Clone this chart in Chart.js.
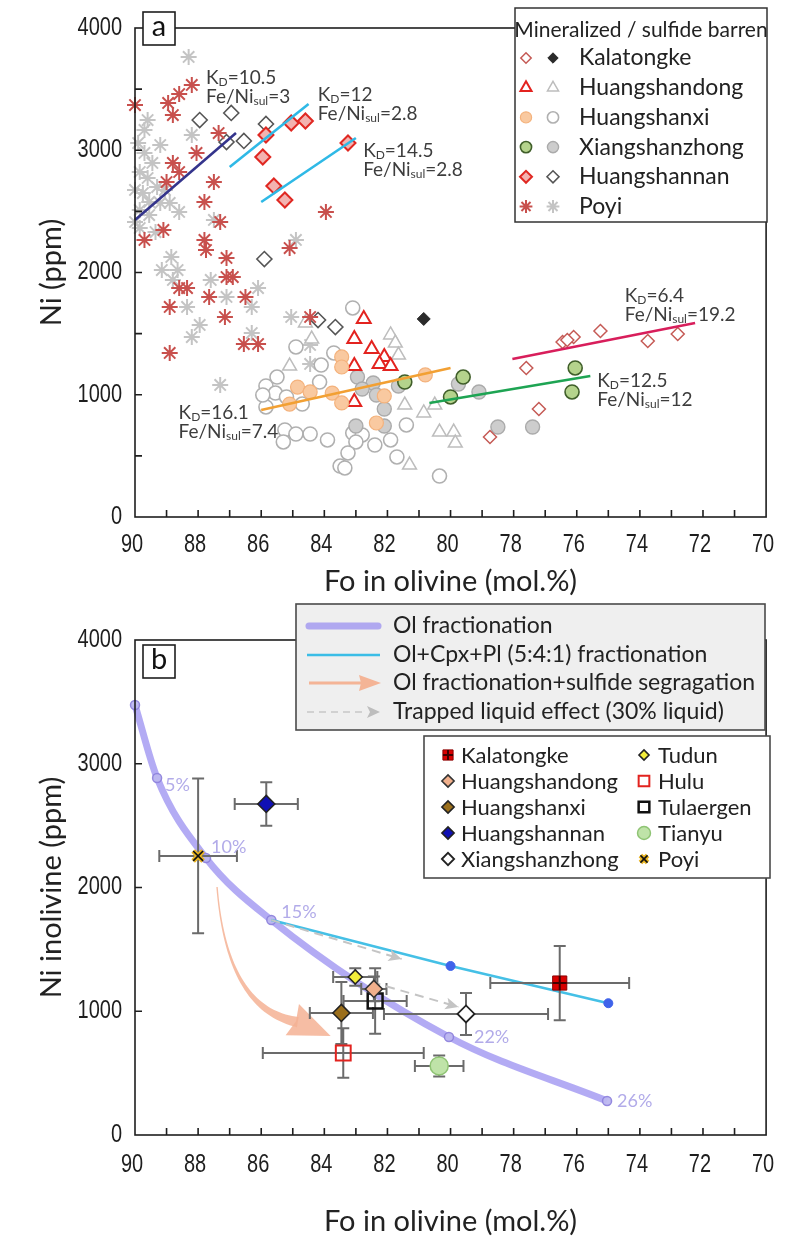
<!DOCTYPE html>
<html>
<head>
<meta charset="utf-8">
<script src="https://cdn.jsdelivr.net/npm/chart.js@4.4.1/dist/chart.umd.min.js"></script>
<style>
  body { margin: 0; background: #fff; }
  #wrap { position: relative; width: 790px; height: 1240px; }
  canvas { position: absolute; left: 0; }
</style>
</head>
<body>
<div id="wrap">
  <canvas id="chartA" width="790" height="600" style="top:0"></canvas>
  <canvas id="chartB" width="790" height="640" style="top:600px"></canvas>
</div>
<script>
// ---------- panel a : [Fo, Ni] ----------
const kalatongkeMin = [[77.6,1219],[76.45,1431],[76.1,1472],[76.3,1448],[75.25,1521],[73.75,1440],[72.8,1497],[77.2,883],[78.75,654]];
const kalatongkeBar = [[80.85,1620]];
const huangshandongMin = [[82.75,1620],[83.05,1456],[82.5,1374],[82.1,1309],[82.25,1252],[81.9,1235],[83.05,1235],[83.05,941]];
const huangshandongBar = [[81.9,1489],[81.75,1423],[81.65,1325],[85.1,1235],[84.4,1456],[81.45,916],[80.85,851],[80.5,916],[80.35,695],[79.9,695],[79.85,605],[81.3,425],[84.6,1587]];
const huangshanxiMin = [[83.45,1309],[83.45,1227],[84.85,1063],[84.45,1023],[83.75,1014],[83.45,933],[85.1,924],[82.1,990],[82.35,769],[80.8,1162]];
const huangshanxiBar = [[83.1,1710],[84.9,1391],[83.7,1342],[84.1,1243],[85.5,1145],[85.85,1072],[85.55,1014],[85.2,982],[84.7,924],[85.25,712],[84.9,679],[84.45,679],[83.9,630],[85.3,614],[83.1,687],[82.8,671],[83.0,614],[82.4,589],[81.9,630],[83.25,524],[83.5,417],[83.35,401],[81.7,491],[80.35,335],[85.85,900],[85.95,998],[81.4,753],[84.15,1104]];
const xiangshanzhongMin = [[81.45,1104],[79.6,1145],[80.0,982],[76.05,1219],[76.15,1023]];
const xiangshanzhongBar = [[82.95,1145],[82.45,1096],[82.8,1047],[82.35,998],[82.1,883],[83.0,744],[82.1,744],[79.75,1088],[79.1,1022],[78.5,736],[77.4,736],[81.65,1072]];
const huangshannanMin = [[85.85,3125],[85.05,3223],[84.6,3239],[85.95,2945],[85.6,2708],[85.25,2593],[83.25,3059]];
const huangshannanBar = [[87.95,3247],[86.95,3305],[85.85,3215],[87.1,3067],[86.55,3076],[85.9,2110],[84.2,1611],[83.65,1554]];
const poyiMin = [[90.0,3370],[88.95,3387],[88.8,3288],[88.6,3460],[88.2,3534],[87.35,3141],[88.05,2978],[88.8,2896],[88.6,2822],[89.0,2740],[87.5,2740],[87.8,2577],[87.3,2413],[89.1,2348],[89.7,2266],[87.8,2266],[87.75,2184],[87.1,2119],[87.1,1963],[86.9,1963],[88.6,1873],[88.35,1873],[87.65,1800],[86.5,1800],[88.9,1718],[87.15,1636],[88.9,1342],[86.55,1415],[86.1,1415],[85.1,2200],[84.45,1636],[83.95,2495]];
const poyiBar = [[88.3,3763],[89.9,3059],[89.7,2978],[89.45,2896],[89.85,2822],[89.6,2773],[89.3,2699],[89.75,2650],[89.55,2577],[89.2,2569],[88.9,2569],[89.85,2511],[88.6,2495],[90.0,2413],[89.35,2331],[88.2,3125],[87.5,2430],[84.9,2266],[88.85,2127],[89.15,2020],[88.65,2020],[88.8,1939],[87.6,1939],[86.1,1873],[87.1,1800],[88.35,1718],[86.3,1718],[87.95,1571],[88.2,1472],[86.3,1505],[85.05,1636],[87.3,1080],[84.45,1407],[84.45,1252],[89.6,3247],[89.7,3166],[89.2,3043],[90.0,2675],[89.05,2675],[89.55,2470],[89.85,2364]];

// partition lines (start, end) and their labels
const kdLineStart = [[90.0,2429],[87.0,2863],[86.0,2577],[86.0,875],[80.67,932],[78.04,1292]];
const kdLineEnd   = [[86.8,3141],[84.5,3378],[83.0,3100],[80.0,1219],[75.57,1153],[72.25,1587]];
const kdValues    = ['10.5','12','14.5','16.1','12.5','6.4'];
const feNiValues  = ['3','2.8','2.8','7.4','12','19.2'];
const kdLabelAt   = [[87.75,3599],[84.21,3460],[82.77,3002],[88.62,859],[75.35,1121],[74.48,1816]];
const kdColors    = ['#34348c','#2fb9e6','#2fb9e6','#f2a033','#1ea453','#d81e5b'];

// ---------- panel b ----------
const olFracFo  = [90, 89.3, 87.75, 85.68, 80.05, 75.04];
const olFracNi  = [3475, 2885, 2238, 1737, 792, 275];
const olFracPct = ['', '5%', '10%', '15%', '22%', '26%'];
const olCpxPlFo = [85.68, 80, 75];
const olCpxPlNi = [1737, 1366, 1065];
const trappedFrom = [[85.68,1737],[82.5,1236]];
const trappedTo   = [[81.55,1422],[79.75,1034]];
const sulfidePath = [[87.4,2004],[87.09,1010],[84.84,913],[83.8,800]]; // start, control, head base, tip

const sampleNames = ['Kalatongke','Huangshandong','Huangshanxi','Huangshannan','Xiangshanzhong','Tudun','Hulu','Tulaergen','Tianyu','Poyi'];
const sampleFo    = [76.54, 82.43, 83.46, 85.84, 79.51, 83.02, 83.40, 82.39, 80.36, 88.0];
const sampleNi    = [1228, 1180, 986, 2675, 978, 1277, 663, 1083, 558, 2255];
const sampleFoErr = [2.2, 0.4, 1.0, 1.0, 2.6, 0.7, 2.55, 1.0, 0.77, 1.23];
const sampleNiErr = [300, 100, 250, 175, 170, 70, 200, 265, 85, 625];

const tickFont = "'Liberation Sans', Arial, sans-serif";
const textFont = "Lato, 'Open Sans', sans-serif";

const styleA = {
  kalatongkeMin:     {shape:'rectRot',  r:6.5, bg:'#ffffff', border:'#c55a55', width:1.5},
  kalatongkeBar:     {shape:'rectRot',  r:6.5, bg:'#2b2b2b', border:'#2b2b2b', width:1},
  huangshandongMin:  {shape:'triangle', r:8,   bg:'#ffffff', border:'#e3231f', width:2},
  huangshandongBar:  {shape:'triangle', r:8,   bg:'#ffffff', border:'#bdbdbd', width:1.5},
  huangshanxiMin:    {shape:'circle',   r:7,   bg:'#f9c9a0', border:'#f4b27c', width:1.2},
  huangshanxiBar:    {shape:'circle',   r:7,   bg:'#ffffff', border:'#b0b0b0', width:1.6},
  xiangshanzhongMin: {shape:'circle',   r:7,   bg:'#b4d38c', border:'#405f2a', width:1.6},
  xiangshanzhongBar: {shape:'circle',   r:7,   bg:'#cdcdcd', border:'#ababab', width:1.4},
  huangshannanMin:   {shape:'rectRot',  r:7.5, bg:'#f3b3b0', border:'#e02822', width:2},
  huangshannanBar:   {shape:'rectRot',  r:7.5, bg:'#ffffff', border:'#555555', width:1.6},
  poyiMin:           {shape:'star',     r:8,   bg:'#c8504d', border:'#c8504d', width:2},
  poyiBar:           {shape:'star',     r:8,   bg:'#c4c4c4', border:'#c4c4c4', width:2}
};
const legendA = [
  ['Kalatongke', 'kalatongkeMin', 'kalatongkeBar'],
  ['Huangshandong', 'huangshandongMin', 'huangshandongBar'],
  ['Huangshanxi', 'huangshanxiMin', 'huangshanxiBar'],
  ['Xiangshanzhong', 'xiangshanzhongMin', 'xiangshanzhongBar'],
  ['Huangshannan', 'huangshannanMin', 'huangshannanBar'],
  ['Poyi', 'poyiMin', 'poyiBar']
];
const groupData = {kalatongkeMin, kalatongkeBar, huangshandongMin, huangshandongBar, huangshanxiMin, huangshanxiBar,
  xiangshanzhongMin, xiangshanzhongBar, huangshannanMin, huangshannanBar, poyiMin, poyiBar};

const styleB = {
  Kalatongke:     {shape:'rect',    r:10,  bg:'#d90000', border:'#8a0000', width:1, over:{shape:'cross', r:7, color:'#400000', width:2}},
  Huangshandong:  {shape:'rectRot', r:8.5, bg:'#f1b08c', border:'#333333', width:1.6},
  Huangshanxi:    {shape:'rectRot', r:8.5, bg:'#9b6f1c', border:'#222222', width:1.6},
  Huangshannan:   {shape:'rectRot', r:8.5, bg:'#1010b4', border:'#222222', width:1.6},
  Xiangshanzhong: {shape:'rectRot', r:8.5, bg:'#ffffff', border:'#222222', width:1.8},
  Tudun:          {shape:'rectRot', r:7,   bg:'#f3ee3a', border:'#222222', width:1.6},
  Hulu:           {shape:'rect',    r:10.5,bg:'rgba(0,0,0,0)', border:'#e2231f', width:2},
  Tulaergen:      {shape:'rect',    r:10.5,bg:'rgba(0,0,0,0)', border:'#111111', width:2.5},
  Tianyu:         {shape:'circle',  r:9,   bg:'#bfe3a8', border:'#8fc474', width:1.5},
  Poyi:           {shape:'crossRot',r:7,   bg:'#e9b41f', border:'#e9b41f', width:5, over:{shape:'crossRot', r:7, color:'#111', width:1.6}}
};

function pts(arr) { return arr.map(p => ({x: p[0], y: p[1]})); }

function scatterSet(points, st) {
  return {type: 'scatter', data: pts(points), pointStyle: st.shape, pointRadius: st.r,
    pointBackgroundColor: st.bg, pointBorderColor: st.border, pointBorderWidth: st.width, clip: false};
}

function drawSymbol(ctx, st, x, y, r) {
  ctx.save();
  ctx.fillStyle = st.bg;
  ctx.strokeStyle = st.border;
  ctx.lineWidth = st.width;
  Chart.helpers.drawPoint(ctx, {pointStyle: st.shape, radius: r || st.r, rotation: 0, borderWidth: st.width}, x, y);
  if (st.over) {
    ctx.strokeStyle = st.over.color;
    ctx.lineWidth = st.over.width;
    Chart.helpers.drawPoint(ctx, {pointStyle: st.over.shape, radius: (r ? r * st.over.r / st.r : st.over.r), rotation: 0, borderWidth: st.over.width}, x, y);
  }
  ctx.restore();
}

// tick labels are drawn narrow by the frame plugin; the library ones stay invisible
function scalesConfig(yStep, xHeight) {
  return {
    x: {type: 'linear', min: 70, max: 90, reverse: true,
      ticks: {stepSize: 1, autoSkip: false, maxRotation: 0, padding: 10, color: 'rgba(0,0,0,0)',
        font: {family: tickFont, size: 25, lineHeight: 1},
        callback: v => (v % 2 === 0 ? v : '')},
      grid: {display: false, drawTicks: false}, border: {display: false},
      afterFit: s => { s.height = xHeight; }},
    y: {type: 'linear', min: 0, max: 4000,
      ticks: {stepSize: yStep, autoSkip: false, padding: 13, color: 'rgba(0,0,0,0)',
        font: {family: tickFont, size: 25, lineHeight: 1},
        callback: v => (v % 1000 === 0 ? v : '')},
      grid: {display: false, drawTicks: false}, border: {display: false},
      afterFit: s => { s.width = 135; }}
  };
}

function narrowText(ctx, txt, x, y) {
  ctx.save();
  ctx.translate(x, y);
  ctx.scale(0.8, 1);
  ctx.fillText(txt, 0, 0);
  ctx.restore();
}

function drawFrame(chart, yTitle, xLabelY, xTitleY) {
  const {ctx, chartArea: a, scales: {x, y}} = chart;
  ctx.save();
  ctx.strokeStyle = '#1e1e1e';
  ctx.lineWidth = 1.6;
  ctx.beginPath();
  x.ticks.forEach(t => {
    if (t.value > 70 && t.value < 90) {
      const p = x.getPixelForValue(t.value);
      ctx.moveTo(p, a.bottom); ctx.lineTo(p, a.bottom - 7);
    }
  });
  y.ticks.forEach(t => {
    if (t.value > 0 && t.value < 4000) {
      const p = y.getPixelForValue(t.value);
      ctx.moveTo(a.left, p); ctx.lineTo(a.left + 7, p);
    }
  });
  ctx.stroke();
  ctx.strokeRect(a.left, a.top, a.right - a.left, a.bottom - a.top);
  ctx.fillStyle = '#1e1e1e';
  ctx.font = '25px ' + tickFont;
  ctx.textBaseline = 'middle';
  ctx.textAlign = 'center';
  x.ticks.forEach(t => {
    if (t.value % 2 === 0) narrowText(ctx, String(t.value), x.getPixelForValue(t.value) - 3, xLabelY);
  });
  ctx.textAlign = 'right';
  y.ticks.forEach(t => {
    if (t.value % 1000 === 0) narrowText(ctx, String(t.value), a.left - 13, y.getPixelForValue(t.value));
  });
  ctx.fillStyle = '#222';
  ctx.font = '29px ' + textFont;
  ctx.textAlign = 'center';
  ctx.fillText('Fo in olivine (mol.%)', (a.left + a.right) / 2, xTitleY);
  ctx.translate(52, (a.top + a.bottom) / 2);
  ctx.rotate(-Math.PI / 2);
  ctx.fillText(yTitle, 0, 0);
  ctx.restore();
}

function panelTag(ctx, txt, x, y) {
  ctx.save();
  ctx.fillStyle = '#fff';
  ctx.strokeStyle = '#1e1e1e';
  ctx.lineWidth = 1.6;
  ctx.fillRect(x, y, 32, 33);
  ctx.strokeRect(x, y, 32, 33);
  ctx.fillStyle = '#111';
  ctx.font = '29px ' + textFont;
  ctx.textAlign = 'center';
  ctx.textBaseline = 'middle';
  ctx.fillText(txt, x + 16, y + 15);
  ctx.restore();
}

function subText(ctx, x, baseline, parts) {
  let cx = x;
  parts.forEach(([txt, sub]) => {
    ctx.font = (sub ? '12px ' : '19px ') + textFont;
    ctx.fillText(txt, cx, baseline + (sub ? 2 : 0));
    cx += ctx.measureText(txt).width;
  });
}

const panelAPlugin = {
  id: 'panelA',
  afterDraw(chart) {
    const {ctx, scales: {x, y}} = chart;
    drawFrame(chart, 'Ni (ppm)', 545, 582);
    // partition coefficient labels
    ctx.save();
    ctx.fillStyle = '#3d3d3d';
    ctx.textAlign = 'left';
    ctx.textBaseline = 'alphabetic';
    kdLabelAt.forEach((p, i) => {
      const px = x.getPixelForValue(p[0]), py = y.getPixelForValue(p[1]);
      subText(ctx, px, py + 7, [['K', false], ['D', true], ['=' + kdValues[i], false]]);
      subText(ctx, px, py + 26, [['Fe/Ni', false], ['sul', true], ['=' + feNiValues[i], false]]);
    });
    ctx.restore();
    // legend
    ctx.save();
    ctx.fillStyle = '#fff';
    ctx.strokeStyle = '#333';
    ctx.lineWidth = 1.5;
    ctx.fillRect(515, 8, 252, 214);
    ctx.strokeRect(515, 8, 252, 214);
    ctx.fillStyle = '#222';
    ctx.font = '21px ' + textFont;
    ctx.textAlign = 'center';
    ctx.textBaseline = 'middle';
    ctx.fillText('Mineralized / sulfide barren', 641, 30);
    ctx.textAlign = 'left';
    ctx.font = '23px ' + textFont;
    legendA.forEach((row, i) => {
      const ly = 58 + i * 29.7;
      drawSymbol(ctx, styleA[row[1]], 526, ly, styleA[row[1]].r * 0.8);
      drawSymbol(ctx, styleA[row[2]], 553, ly, styleA[row[2]].r * 0.8);
      ctx.fillStyle = '#222';
      ctx.fillText(row[0], 579, ly);
    });
    ctx.restore();
    panelTag(ctx, 'a', 143, 12);
  }
};

const datasetsA = [];
kdLineStart.forEach((s, i) => {
  datasetsA.push({type: 'line', data: pts([s, kdLineEnd[i]]), borderColor: kdColors[i], borderWidth: 2.6,
    pointRadius: 0, fill: false, clip: false});
});
['huangshannanMin','xiangshanzhongMin','huangshanxiMin','huangshandongMin','kalatongkeMin','kalatongkeBar','poyiMin',
 'huangshannanBar','xiangshanzhongBar','huangshandongBar','huangshanxiBar','poyiBar'].forEach(k => {
  datasetsA.push(scatterSet(groupData[k], styleA[k]));
});

new Chart(document.getElementById('chartA'), {
  type: 'scatter',
  data: {datasets: datasetsA},
  options: {
    responsive: false, animation: false, devicePixelRatio: 1,
    layout: {padding: {top: 28, right: 16, left: 0, bottom: 0}},
    plugins: {legend: {display: false}, tooltip: {enabled: false}},
    scales: scalesConfig(500, 83)
  },
  plugins: [panelAPlugin]
});

// ---------- panel b ----------
function arrowHead(ctx, x0, y0, x1, y1, len, half, notch) {
  const ang = Math.atan2(y1 - y0, x1 - x0);
  const c = Math.cos(ang), s = Math.sin(ang);
  ctx.beginPath();
  ctx.moveTo(x1, y1);
  ctx.lineTo(x1 - len * c - half * s, y1 - len * s + half * c);
  ctx.lineTo(x1 - (len - notch) * c, y1 - (len - notch) * s);
  ctx.lineTo(x1 - len * c + half * s, y1 - len * s - half * c);
  ctx.closePath();
  ctx.fill();
}

let cyanIndex = 0;
const panelBPlugin = {
  id: 'panelB',
  afterDatasetDraw(chart, args) {
    if (args.index !== cyanIndex) return;
    const {ctx, scales: {x, y}} = chart;
    // sulfide segregation arrow (tapered)
    const P = sulfidePath.map(p => [x.getPixelForValue(p[0]), y.getPixelForValue(p[1])]);
    ctx.save();
    ctx.fillStyle = 'rgba(245,178,148,0.85)';
    const left = [], right = [];
    const N = 40;
    for (let i = 0; i <= N; i++) {
      const t = i / N, u = 1 - t;
      const bx = u * u * P[0][0] + 2 * u * t * P[1][0] + t * t * P[2][0];
      const by = u * u * P[0][1] + 2 * u * t * P[1][1] + t * t * P[2][1];
      const dx = 2 * u * (P[1][0] - P[0][0]) + 2 * t * (P[2][0] - P[1][0]);
      const dy = 2 * u * (P[1][1] - P[0][1]) + 2 * t * (P[2][1] - P[1][1]);
      const l = Math.hypot(dx, dy) || 1;
      const w = 0.7 + 4.5 * t * t;
      left.push([bx - dy / l * w, by + dx / l * w]);
      right.push([bx + dy / l * w, by - dx / l * w]);
    }
    ctx.beginPath();
    ctx.moveTo(left[0][0], left[0][1]);
    left.forEach(p => ctx.lineTo(p[0], p[1]));
    right.reverse().forEach(p => ctx.lineTo(p[0], p[1]));
    ctx.closePath();
    ctx.fill();
    arrowHead(ctx, P[2][0], P[2][1], P[3][0], P[3][1], Math.hypot(P[3][0] - P[2][0], P[3][1] - P[2][1]) + 6, 17, 4);
    ctx.restore();
    // error bars
    ctx.save();
    ctx.strokeStyle = '#6b6b6b';
    ctx.lineWidth = 2;
    ctx.beginPath();
    sampleNames.forEach((n, i) => {
      const cx = x.getPixelForValue(sampleFo[i]), cy = y.getPixelForValue(sampleNi[i]);
      const x0 = x.getPixelForValue(sampleFo[i] + sampleFoErr[i]), x1 = x.getPixelForValue(sampleFo[i] - sampleFoErr[i]);
      const y0 = y.getPixelForValue(sampleNi[i] + sampleNiErr[i]), y1 = y.getPixelForValue(sampleNi[i] - sampleNiErr[i]);
      ctx.moveTo(x0, cy); ctx.lineTo(x1, cy);
      ctx.moveTo(x0, cy - 6); ctx.lineTo(x0, cy + 6);
      ctx.moveTo(x1, cy - 6); ctx.lineTo(x1, cy + 6);
      ctx.moveTo(cx, y0); ctx.lineTo(cx, y1);
      ctx.moveTo(cx - 6, y0); ctx.lineTo(cx + 6, y0);
      ctx.moveTo(cx - 6, y1); ctx.lineTo(cx + 6, y1);
    });
    ctx.stroke();
    ctx.restore();
    // trapped liquid arrows
    ctx.save();
    ctx.strokeStyle = '#c4c4c4';
    ctx.fillStyle = '#c4c4c4';
    ctx.lineWidth = 2;
    trappedFrom.forEach((f, i) => {
      const x0 = x.getPixelForValue(f[0]), y0 = y.getPixelForValue(f[1]);
      const x1 = x.getPixelForValue(trappedTo[i][0]), y1 = y.getPixelForValue(trappedTo[i][1]);
      ctx.setLineDash([9, 6]);
      ctx.beginPath(); ctx.moveTo(x0, y0); ctx.lineTo(x1, y1); ctx.stroke();
      ctx.setLineDash([]);
      arrowHead(ctx, x0, y0, x1, y1, 13, 6, 3);
    });
    ctx.restore();
  },
  afterDraw(chart) {
    const {ctx, scales: {x, y}} = chart;
    drawFrame(chart, 'Ni inolivine (ppm)', 565, 622);
    // percent labels on olivine fractionation curve
    const pctOffset = [[0,0],[8,7],[5,-11],[10,-8],[25,0],[10,0]];
    ctx.save();
    ctx.fillStyle = '#b2abe9';
    ctx.font = '18px ' + textFont;
    ctx.textAlign = 'left';
    ctx.textBaseline = 'middle';
    olFracPct.forEach((t, i) => {
      if (!t) return;
      ctx.fillText(t, x.getPixelForValue(olFracFo[i]) + pctOffset[i][0], y.getPixelForValue(olFracNi[i]) + pctOffset[i][1]);
    });
    ctx.restore();
    // model legend
    ctx.save();
    ctx.fillStyle = '#efefef';
    ctx.strokeStyle = '#4a4a4a';
    ctx.lineWidth = 1.6;
    ctx.fillRect(296, 4, 469, 126);
    ctx.strokeRect(296, 4, 469, 126);
    ctx.lineCap = 'round';
    ctx.strokeStyle = 'rgba(160,150,240,0.8)'; ctx.lineWidth = 7;
    ctx.beginPath(); ctx.moveTo(309, 26); ctx.lineTo(378, 26); ctx.stroke();
    ctx.lineCap = 'butt';
    ctx.strokeStyle = '#3bbde6'; ctx.lineWidth = 2.5;
    ctx.beginPath(); ctx.moveTo(307, 55); ctx.lineTo(380, 55); ctx.stroke();
    ctx.strokeStyle = '#f4b496'; ctx.fillStyle = '#f4b496'; ctx.lineWidth = 3;
    ctx.beginPath(); ctx.moveTo(309, 83); ctx.lineTo(362, 83); ctx.stroke();
    arrowHead(ctx, 309, 83, 381, 83, 22, 8, 2);
    ctx.strokeStyle = '#c8c8c8'; ctx.fillStyle = '#bdbdbd'; ctx.lineWidth = 1.6;
    ctx.setLineDash([7, 5]);
    ctx.beginPath(); ctx.moveTo(307, 112); ctx.lineTo(366, 112); ctx.stroke();
    ctx.setLineDash([]);
    arrowHead(ctx, 307, 112, 380, 112, 13, 6, 3);
    ctx.fillStyle = '#222';
    ctx.font = '23px ' + textFont;
    ctx.textAlign = 'left';
    ctx.textBaseline = 'middle';
    ['Ol fractionation', 'Ol+Cpx+Pl (5:4:1) fractionation', 'Ol fractionation+sulfide segragation', 'Trapped liquid effect (30% liquid)']
      .forEach((t, i) => ctx.fillText(t, 393, [26, 55, 83, 112][i]));
    // samples legend
    ctx.fillStyle = '#fff';
    ctx.strokeStyle = '#4a4a4a';
    ctx.fillRect(424, 136, 346, 142);
    ctx.strokeRect(424, 136, 346, 142);
    ctx.font = '22px ' + textFont;
    sampleNames.forEach((n, i) => {
      const col = i < 5 ? 0 : 1, row = i < 5 ? i : i - 5;
      const ly = 155 + row * 26;
      const sx = col ? 644 : 448;
      drawSymbol(ctx, styleB[n], sx, ly, styleB[n].r * 0.72);
      ctx.fillStyle = '#222';
      ctx.fillText(n, col ? 658 : 461, ly + 1);
    });
    ctx.restore();
    panelTag(ctx, 'b', 143, 45);
  }
};

const datasetsB = [];
sampleNames.forEach((n, i) => {
  const st = styleB[n];
  if (st.over) {
    datasetsB.push({type: 'scatter', data: [{x: sampleFo[i], y: sampleNi[i]}], pointStyle: st.over.shape,
      pointRadius: st.over.r, pointBorderColor: st.over.color, pointBorderWidth: st.over.width, clip: false});
  }
});
sampleNames.forEach((n, i) => {
  datasetsB.push(scatterSet([[sampleFo[i], sampleNi[i]]], styleB[n]));
});
cyanIndex = datasetsB.length;
datasetsB.push({type: 'line', data: olCpxPlFo.map((f, i) => ({x: f, y: olCpxPlNi[i]})),
  borderColor: '#45c0e6', borderWidth: 2.6, fill: false, clip: false,
  pointRadius: [0, 4.5, 4.5], pointBackgroundColor: '#3f63ea', pointBorderColor: '#3f63ea', pointBorderWidth: 1});
datasetsB.push({type: 'line', data: olFracFo.map((f, i) => ({x: f, y: olFracNi[i]})),
  borderColor: 'rgba(150,138,240,0.72)', borderWidth: 7, fill: false, clip: false, cubicInterpolationMode: 'monotone',
  pointRadius: 4.5, pointBackgroundColor: 'rgba(190,184,240,0.95)', pointBorderColor: 'rgba(140,128,220,0.9)', pointBorderWidth: 1.5});

new Chart(document.getElementById('chartB'), {
  type: 'scatter',
  data: {datasets: datasetsB},
  options: {
    responsive: false, animation: false, devicePixelRatio: 1,
    layout: {padding: {top: 40, right: 16, left: 0, bottom: 0}},
    plugins: {legend: {display: false}, tooltip: {enabled: false}},
    scales: scalesConfig(1000, 105)
  },
  plugins: [panelBPlugin]
});
</script>
</body>
</html>
